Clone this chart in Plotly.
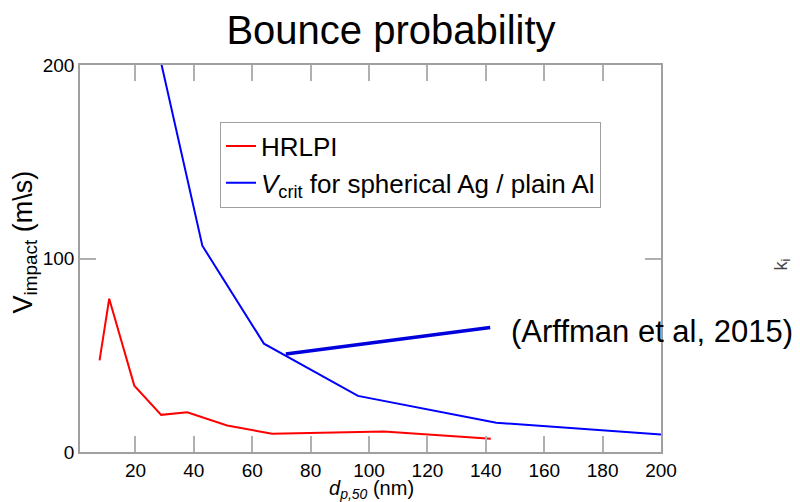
import plotly.graph_objects as go

# Data
hrlpi_x = [7.7, 11.0, 19.6, 28.8, 37.7, 51.4, 66.8, 80.0, 105.1, 141.7]
hrlpi_y = [47.4, 79.2, 34.3, 19.2, 20.5, 13.7, 9.4, 9.9, 10.6, 6.8]

vcrit_x = [20.0, 42.9, 64.0, 96.2, 143.6, 200.0]
vcrit_y = [260.0, 106.6, 56.0, 29.0, 15.1, 9.0]

pointer_x = [71.5, 141.5]
pointer_y = [50.6, 64.3]

x_range = [1, 200]
y_range = [0, 200]
y_ticks = [0, 100, 200]

FONT = "Liberation Sans, Arial, sans-serif"
AX = "#a0a0a0"

fig = go.Figure()
fig.add_trace(go.Scatter(x=hrlpi_x, y=hrlpi_y, mode="lines", name="HRLPI",
                         line=dict(color="#ff0000", width=2)))
fig.add_trace(go.Scatter(x=vcrit_x, y=vcrit_y, mode="lines",
                         name="<i>V</i><sub>crit</sub> for spherical Ag / plain Al",
                         line=dict(color="#0000ff", width=2)))
fig.add_trace(go.Scatter(x=pointer_x, y=pointer_y, mode="lines", showlegend=False,
                         line=dict(color="#0000dd", width=3.5)))

fig.update_layout(
    width=800, height=502,
    margin=dict(l=80, r=139, t=65, b=50),
    paper_bgcolor="white", plot_bgcolor="white",
    font=dict(family=FONT, color="black"),
    title=dict(text="Bounce probability", x=391/800, xref="container", xanchor="center",
               y=1-30/502, yref="container", yanchor="middle",
               font=dict(size=40, family=FONT, color="black")),
    showlegend=True,
    legend=dict(x=(220-80)/581, y=(452.5-122)/387, xanchor="left", yanchor="top",
                bordercolor="#a0a0a0", borderwidth=1, bgcolor="white",
                font=dict(size=26, family=FONT, color="black"),
                itemwidth=30, tracegroupgap=0),
    xaxis=dict(range=x_range, tick0=0, dtick=20, ticks="inside", ticklen=16,
               tickcolor="#b0b0b0", tickwidth=1.5, showline=True, linecolor=AX,
               linewidth=1.5, mirror="ticks", showgrid=False, zeroline=False,
               tickfont=dict(size=19, family=FONT, color="black")),
    yaxis=dict(range=y_range, tickvals=y_ticks, ticks="inside", ticklen=16,
               tickcolor="#b0b0b0", tickwidth=1.5, showline=True, linecolor=AX,
               linewidth=1.5, mirror="ticks", showgrid=False, zeroline=False,
               tickfont=dict(size=19, family=FONT, color="black")),
    annotations=[
        dict(text="V<sub>impact</sub> (m\\s)", xref="paper", yref="paper",
             x=(24-80)/581, y=(452.5-243)/387, xanchor="center", yanchor="middle",
             textangle=-90, showarrow=False, font=dict(size=27, family=FONT)),
        dict(text="<i>d</i><sub><i>p,50</i></sub> (nm)", xref="paper", yref="paper",
             x=(371-80)/581, y=(452.5-490)/387, xanchor="center", yanchor="middle",
             showarrow=False, font=dict(size=20, family=FONT)),
        dict(text="(Arffman et al, 2015)", xref="paper", yref="paper",
             x=(509-80)/581, y=(452.5-332)/387, xanchor="left", yanchor="middle",
             showarrow=False, font=dict(size=31, family=FONT)),
        dict(text="k<sub>i</sub>", xref="paper", yref="paper",
             x=(782-80)/581, y=(452.5-265)/387, xanchor="center", yanchor="middle",
             textangle=-90, showarrow=False, font=dict(size=18, family=FONT, color="#444")),
    ],
)

fig.write_html("out.html")
